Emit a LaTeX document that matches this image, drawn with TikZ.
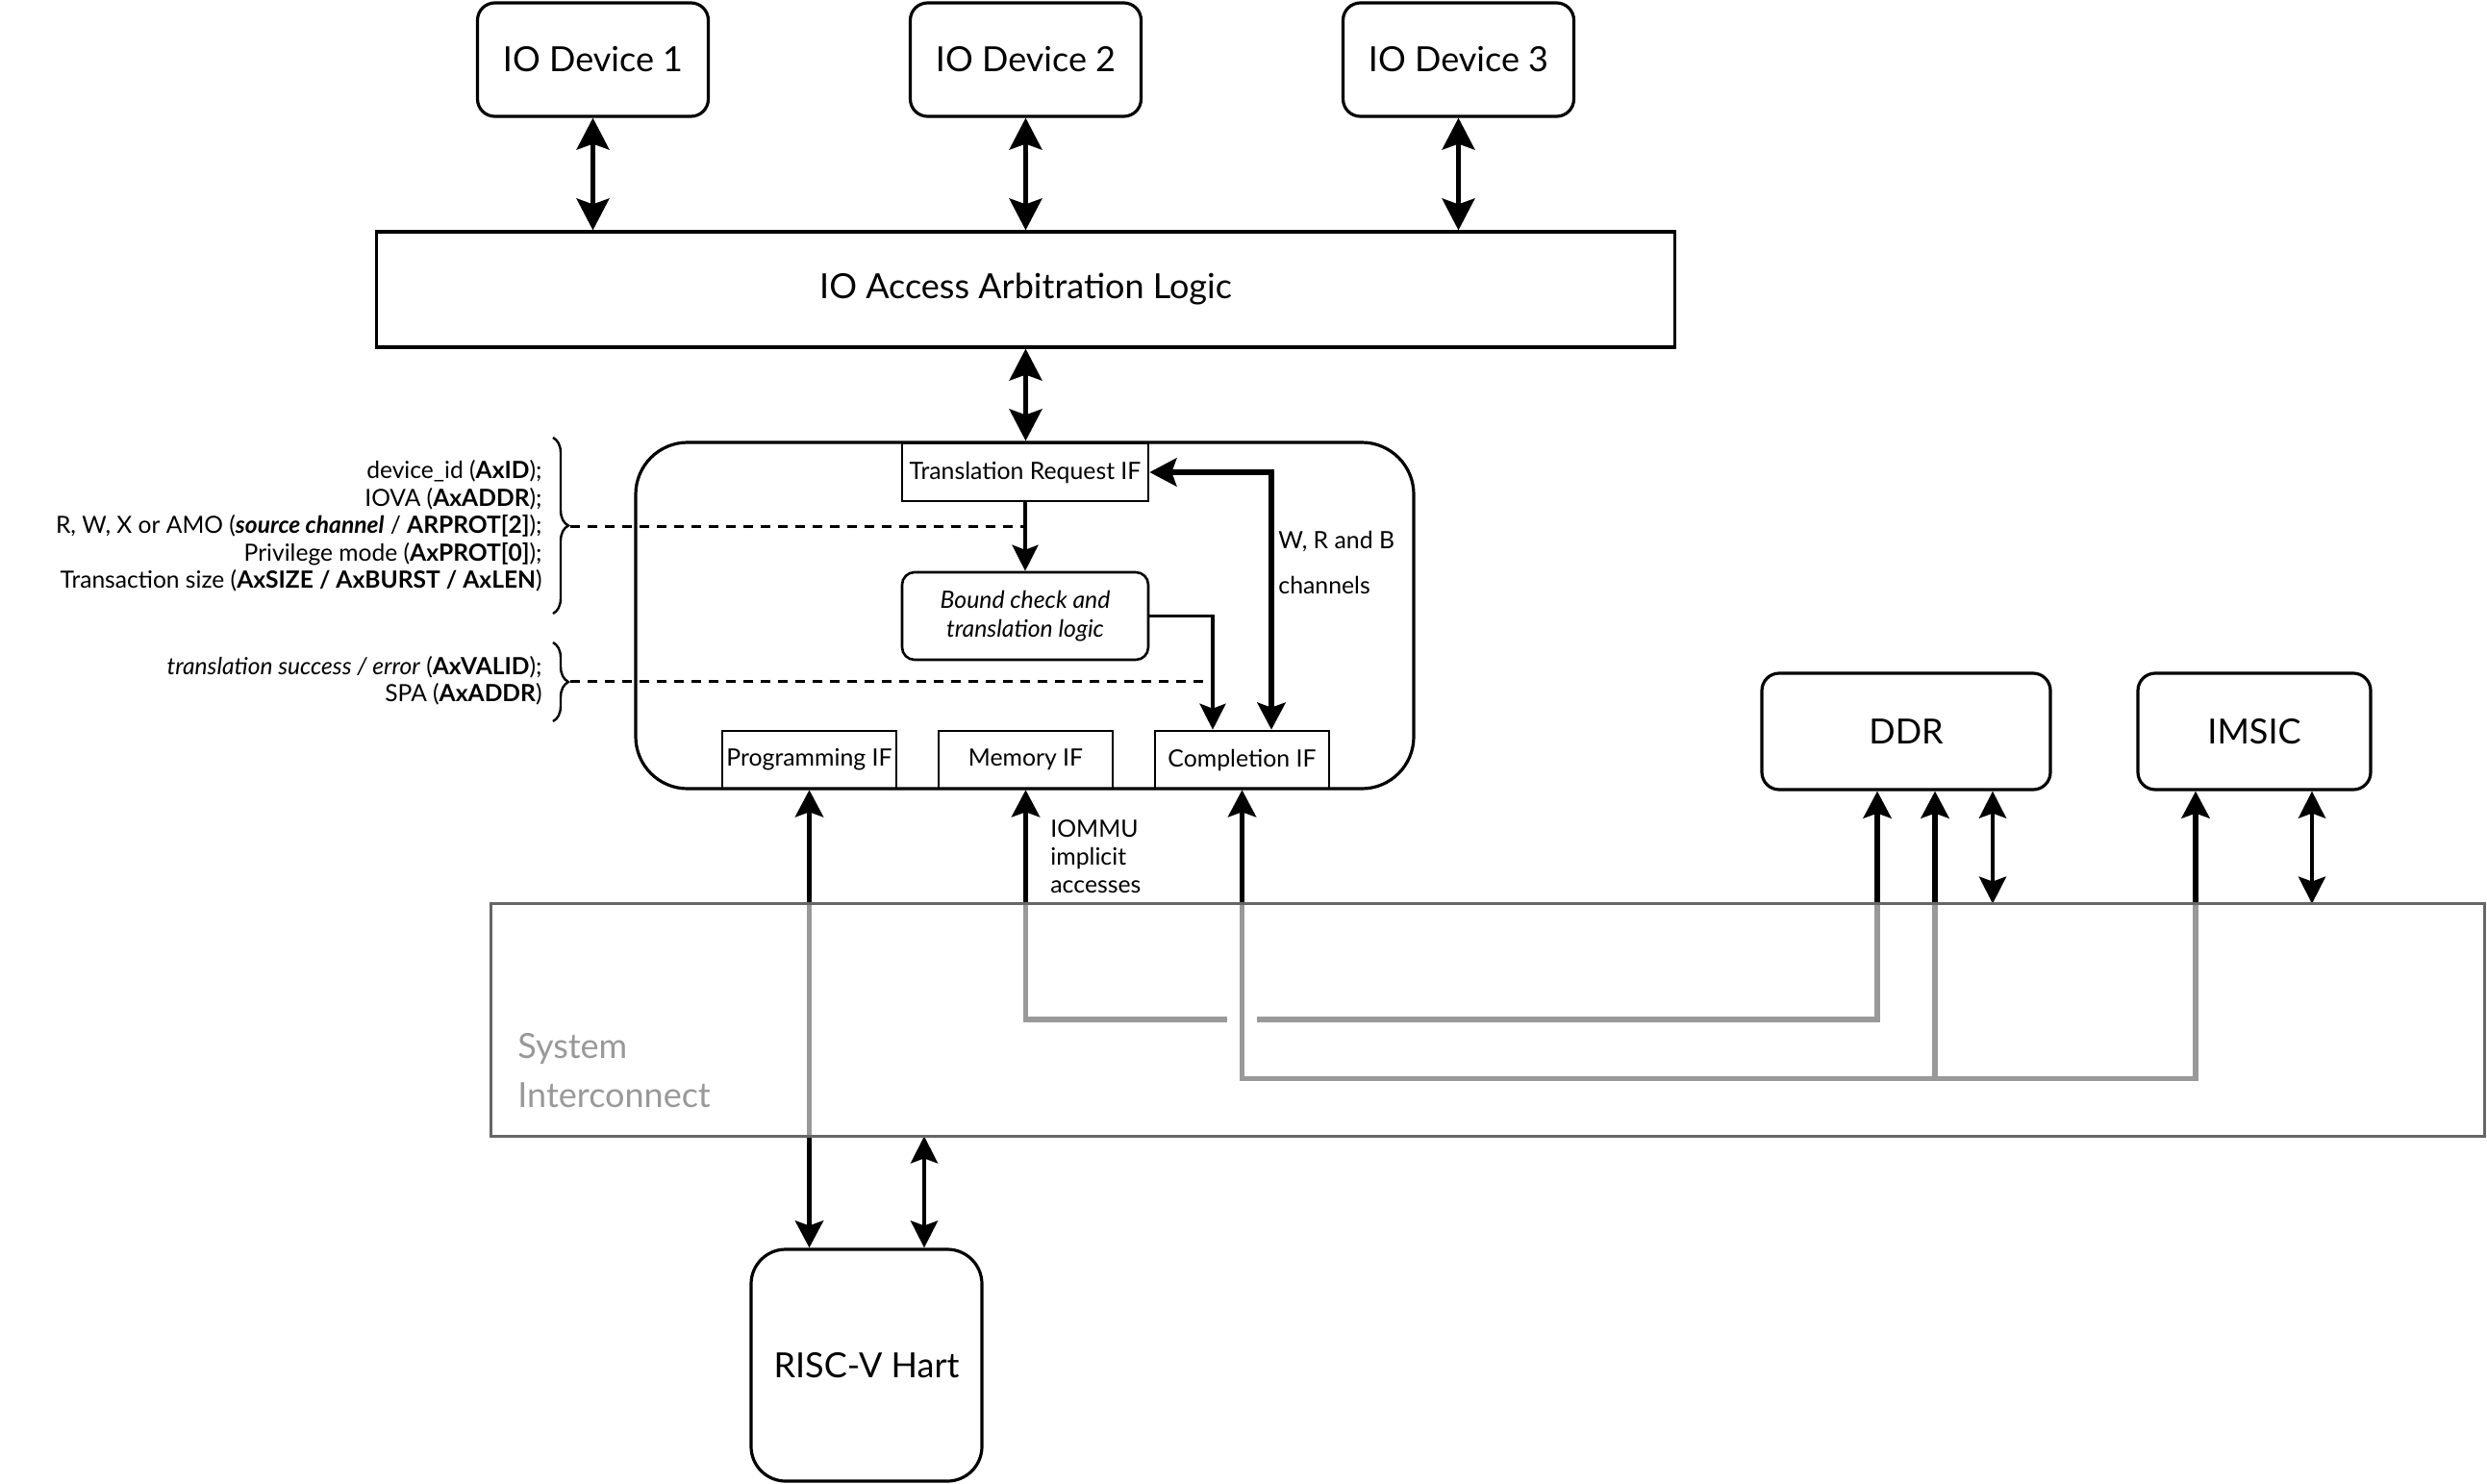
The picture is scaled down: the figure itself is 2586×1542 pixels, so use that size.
\documentclass[tikz,border=0pt]{standalone}
\usepackage{fontspec}
\setmainfont{Lato}
\usetikzlibrary{arrows.meta,calc,decorations.pathreplacing}
\definecolor{icborder}{HTML}{666666}
\definecolor{ictext}{HTML}{999999}
\begin{document}
\begin{tikzpicture}[x=0.5pt,y=-0.5pt,
  bigfont/.style={font=\fontsize{18}{21}\selectfont},
  smallfont/.style={font=\fontsize{12.4}{14}\selectfont},
  rbox/.style={draw, line width=1.6pt, rounded corners=9pt, inner sep=0pt, bigfont},
  devbox/.style={rbox, minimum width=120pt, minimum height=59pt},
  ifbox/.style={draw, line width=1.3pt, inner sep=0pt, minimum height=30pt, smallfont},
  topa/.style={line width=2.2pt, >={Stealth[length=16.5pt,width=17pt,inset=3pt]}},
  thk/.style={line width=2.7pt, >={Stealth[length=14pt,width=14.5pt,inset=2.5pt]}},
  dbl/.style={line width=2.2pt, >={Stealth[length=14pt,width=14pt,inset=2.5pt]}},
  thn/.style={line width=1.8pt, >={Stealth[length=13.5pt,width=13.5pt,inset=2.5pt]}},
  dsh/.style={line width=1.5pt, dash pattern=on 5pt off 4pt},
  brc/.style={decorate, decoration={brace, amplitude=8pt}, line width=1.2pt},
  note/.style={align=right, anchor=east, inner sep=0pt, font=\fontsize{12.3}{14.25}\selectfont},
  lbl/.style={align=left, anchor=west, inner sep=0pt, smallfont},
  ictxt/.style={anchor=base west, inner sep=0pt, text=ictext, bigfont}
]
\useasboundingbox (0,0) rectangle (2586,1542);

% IO devices and arbitration
\node[devbox] (d1) at (616.5,62) {IO Device 1};
\node[devbox] (d2) at (1066.5,62) {IO Device 2};
\node[devbox] (d3) at (1516.5,62) {IO Device 3};
\node[draw, line width=1.6pt, inner sep=0pt, minimum width=675pt, minimum height=60pt, bigfont] (arb) at (1066.5,301) {IO Access Arbitration Logic};

% IOMMU
\node[draw, line width=1.6pt, rounded corners=27pt, inner sep=0pt, minimum width=404.5pt, minimum height=180pt] (iommu) at (1065.5,640) {};
\node[ifbox, minimum width=128pt] (tr) at (1066,491) {Translation Request IF};
\node[ifbox, rounded corners=6.5pt, minimum width=128pt, minimum height=45.5pt, align=center, font=\fontsize{12.4}{15}\selectfont\itshape] (bound) at (1066,640.5) {Bound check and\\translation logic};
\node[ifbox, minimum width=90.5pt] (prog) at (841.5,790) {Programming IF};
\node[ifbox, minimum width=90.5pt] (mem) at (1066.5,790) {Memory IF};
\node[ifbox, minimum width=90.5pt] (comp) at (1291.5,790) {Completion IF};
\coordinate (cin1) at ([xshift=-15.25pt]comp.north);
\coordinate (cin2) at ([xshift=15.25pt]comp.north);

% memory side
\node[rbox, minimum width=150pt, minimum height=60.5pt] (ddr) at (1982,760.5) {DDR};
\node[rbox, minimum width=121pt, minimum height=60.5pt] (imsic) at (2344,760.5) {IMSIC};
\node[inner sep=0pt, minimum width=1036pt, minimum height=120.5pt] (inter) at (1547,1060.5) {};
\node[rbox, rounded corners=18pt, minimum width=120pt, minimum height=120.5pt] (hart) at (901,1419.5) {RISC-V Hart};

% annotations
\node[note] (n1) at (564,547) {device\_id (\textbf{AxID});\\IOVA (\textbf{AxADDR});\\R, W, X or AMO (\textbf{\textit{source channel}} / \textbf{ARPROT[2]});\\Privilege mode (\textbf{AxPROT[0]});\\Transaction size (\textbf{AxSIZE / AxBURST / AxLEN})};
\node[note, font=\fontsize{12.3}{14}\selectfont] (n2) at (564,708) {\textit{translation success / error} (\textbf{AxVALID});\\SPA (\textbf{AxADDR})};
\draw[brc] (575,455) -- (575,638);
\draw[brc] (575,668) -- (575,750);
\coordinate (b1) at (593,547);
\coordinate (b2) at (593,708);
\draw[dsh] (b1) -- (b1 -| tr.south);
\draw[dsh] (b2) -- (b2 -| cin1);

\node[lbl] (wrb) at (1329,563) {W, R and B};
\node[lbl] (chn) at (1329,608) {channels};
\node[lbl, font=\fontsize{12.4}{14.5}\selectfont] (impl) at (1092,891) {IOMMU\\implicit\\accesses};

% top connectors
\draw[topa,<->] (d1.south) -- (d1.south |- arb.north);
\draw[topa,<->] (d2.south) -- (d2.south |- arb.north);
\draw[topa,<->] (d3.south) -- (d3.south |- arb.north);
\draw[topa,<->] (arb.south) -- (arb.south |- iommu.north);

% inside IOMMU
\draw[thn,->] (tr.south) -- (bound.north);
\draw[thn,->] (bound.east) -| (cin1);
\draw[thk,line width=3pt,<->] (tr.east) -| (cin2);

% interconnect paths
\coordinate (mj1) at (1276,1060);
\coordinate (mj2) at (1307,1060);
\coordinate (cj) at (2012,1120);
\coordinate (ddr1) at ([xshift=-15pt]ddr.south);
\coordinate (ddr3) at ([xshift=45pt]ddr.south);
\coordinate (ims1) at ([xshift=-30.5pt]imsic.south);
\coordinate (ims2) at ([xshift=30pt]imsic.south);
\coordinate (hart2) at ([xshift=30pt]hart.north);
\draw[thk,<-] (mem.south) |- (mj1);
\draw[thk,->] (mj2) -| (ddr1);
\draw[thk,<->] (comp.south) -- ++(0,300) -| (ims1);
\draw[thk,->] (cj) -- (cj |- ddr.south);
\draw[thk,<->] (prog.south) -- (prog.south |- hart.north);
\draw[dbl,<->] (ddr3) -- (ddr3 |- inter.north);
\draw[dbl,<->] (ims2) -- (ims2 |- inter.north);
\draw[dbl,<->] (hart2 |- inter.south) -- (hart2);

% interconnect overlay
\fill[white, opacity=0.6] (inter.north west) rectangle (inter.south east);
\draw[icborder, line width=1.5pt] (inter.north west) rectangle (inter.south east);
\node[ictxt] (ic1) at (538,1100) {System};
\node[ictxt] (ic2) at (538,1151) {Interconnect};
\end{tikzpicture}
\end{document}
